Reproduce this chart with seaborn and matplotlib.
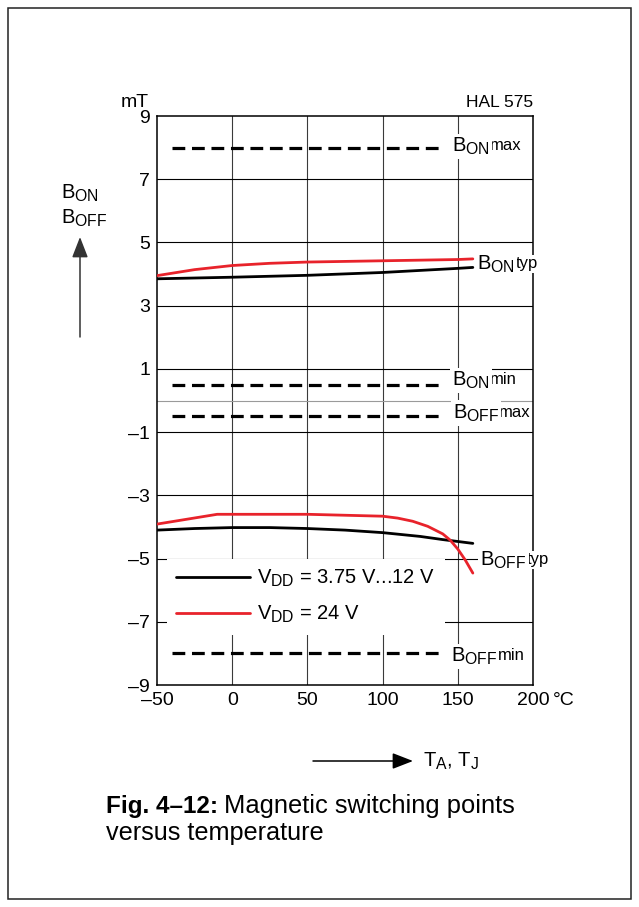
import matplotlib
matplotlib.use("Agg")
import matplotlib.pyplot as plt
import pandas as pd
import seaborn as sns

# ---- data -----------------------------------------------------------------
# typical switching points, V_DD = 3.75 V ... 12 V
temp_on_low = [-50, 0, 50, 100, 150, 160]
b_on_low = [3.85, 3.90, 3.96, 4.05, 4.18, 4.21]
temp_off_low = [-50, -25, 0, 25, 50, 75, 100, 125, 140, 160]
b_off_low = [-4.10, -4.05, -4.02, -4.02, -4.05, -4.10, -4.18, -4.30, -4.40, -4.52]

# typical switching points, V_DD = 24 V
temp_on_high = [-50, -25, 0, 25, 50, 100, 150, 160]
b_on_high = [3.95, 4.14, 4.27, 4.34, 4.38, 4.42, 4.46, 4.48]
temp_off_high = [-50, -10, 0, 50, 100, 110, 120, 130, 140, 145, 150, 155, 160]
b_off_high = [-3.91, -3.60, -3.60, -3.60, -3.66, -3.72, -3.82, -3.98, -4.22,
              -4.42, -4.70, -5.05, -5.46]

# specification limits (mT) and the temperature span they are drawn over
limit_values = [8.0, 0.5, -0.5, -8.0]
limit_span = [-40, 140]

supply_names = ["low", "high"]
supply_labels = [r"V$_\mathregular{DD}$ = 3.75 V...12 V",
                 r"V$_\mathregular{DD}$ = 24 V"]

x_ticks = [-50, 0, 50, 100, 150, 200]
x_ticklabels = ["–50", "0", "50", "100", "150", "200"]
y_ticks = [-9, -7, -5, -3, -1, 1, 3, 5, 7, 9]
y_ticklabels = ["–9", "–7", "–5", "–3", "–1", "1", "3", "5", "7", "9"]

point_names = ["ON", "ON", "ON", "OFF", "OFF", "OFF"]
point_kinds = ["max", "typ", "min", "max", "typ", "min"]

# ---- style ----------------------------------------------------------------
sns.set_theme(style="white")
plt.rcParams.update({
    "font.family": ["Liberation Sans", "DejaVu Sans"],
    "mathtext.fontset": "custom",
    "mathtext.rm": "Liberation Sans",
    "mathtext.it": "Liberation Sans:italic",
    "mathtext.bf": "Liberation Sans:bold",
    "mathtext.sf": "Liberation Sans",
    "text.color": "black",
    "axes.labelcolor": "black",
    "xtick.color": "black",
    "ytick.color": "black",
})
try:
    # slightly larger sub/superscripts than the mathtext default
    import matplotlib._mathtext as _mt
    _mt.SHRINK_FACTOR = 0.78
except Exception:
    pass

W, H = 639, 907
RED = "#e8232b"
TICK_FS = 14
LABEL_FS = 14.5


def fxy(px, py):
    """pixel position (from top-left) -> figure fraction"""
    return px / W, 1 - py / H


fig = plt.figure(figsize=(W / 100, H / 100), dpi=100)
ax = fig.add_axes([157 / W, 1 - 685 / H, (533 - 157) / W, (685 - 116) / H])

# ---- curves -----------------------------------------------------------------
curves = pd.concat([
    pd.DataFrame({"temp": temp_on_low, "B": b_on_low, "supply": "low", "curve": "on_low"}),
    pd.DataFrame({"temp": temp_on_high, "B": b_on_high, "supply": "high", "curve": "on_high"}),
    pd.DataFrame({"temp": temp_off_low, "B": b_off_low, "supply": "low", "curve": "off_low"}),
    pd.DataFrame({"temp": temp_off_high, "B": b_off_high, "supply": "high", "curve": "off_high"}),
], ignore_index=True)

sns.lineplot(data=curves, x="temp", y="B", hue="supply", units="curve",
             estimator=None, sort=False, hue_order=supply_names,
             palette={"low": "black", "high": RED}, linewidth=2.0,
             ax=ax, zorder=4)

limits = pd.DataFrame({
    "temp": limit_span * len(limit_values),
    "B": [v for v in limit_values for _ in limit_span],
    "limit": [i for i in range(len(limit_values)) for _ in limit_span],
})
for _, grp in limits.groupby("limit"):
    ax.plot(grp["temp"], grp["B"], color="black", lw=2.3,
            dashes=(4.0, 2.1), dash_capstyle="butt", zorder=4)

# ---- axes -------------------------------------------------------------------
ax.set_xlim(-50, 200)
ax.set_ylim(-9, 9)
ax.set_xticks(x_ticks, x_ticklabels)
ax.set_yticks(y_ticks, y_ticklabels)
ax.tick_params(length=0, pad=5, labelsize=TICK_FS, colors="black")
ax.set_xlabel("")
ax.set_ylabel("")
for s in ax.spines.values():
    s.set_color("black")
    s.set_linewidth(1.1)
    s.set_zorder(3)

for xv in x_ticks[1:-1]:
    ax.axvline(xv, color="#3a3a3a", lw=0.8, zorder=1)
for yv in y_ticks[1:-1]:
    ax.axhline(yv, color="black", lw=0.8, zorder=1)
ax.axhline(0, color="#9a9a9a", lw=0.8, zorder=1)

# legend with a white panel over the grid
handles, labels = ax.get_legend_handles_labels()
leg = ax.legend(handles[:2], supply_labels, loc="upper left",
                bbox_to_anchor=(0.026, 0.222), borderaxespad=0,
                fontsize=LABEL_FS, handlelength=3.7, handletextpad=0.35,
                labelspacing=0.75, borderpad=0.45, frameon=True,
                fancybox=False, framealpha=1)
leg.get_frame().set_facecolor("white")
leg.get_frame().set_edgecolor("none")
for ln in leg.get_lines():
    ln.set_linewidth(2.0)

# ---- curve labels -----------------------------------------------------------
label_xy = [(146, 7.87), (163, 4.13), (146, 0.46), (146.5, -0.56),
            (165, -5.24), (145.5, -8.27)]
box = dict(facecolor="white", edgecolor="none", pad=1.5)
for name, kind, (lx, ly) in zip(point_names, point_kinds, label_xy):
    main = ax.text(lx, ly, r"B$_\mathregular{%s}$" % name, fontsize=LABEL_FS,
                   ha="left", va="baseline", zorder=6, clip_on=False, bbox=box)
    ax.annotate(kind, xy=(1, ly), xycoords=(main, "data"),
                xytext=(0.2, 1.2), textcoords="offset points",
                fontsize=12, ha="left", va="baseline", zorder=5,
                annotation_clip=False,
                bbox=dict(facecolor="white", edgecolor="none", pad=1.0))

# ---- surrounding texts ------------------------------------------------------
ax.annotate("°C", xy=(1, 0), xycoords="axes fraction", xytext=(20, -7),
            textcoords="offset pixels", ha="left", va="top", fontsize=TICK_FS)
fig.text(*fxy(121, 107), "mT", fontsize=TICK_FS, ha="left", va="baseline")
fig.text(*fxy(533, 107), "HAL 575", fontsize=12.5, ha="right", va="baseline")

fig.text(*fxy(61, 199), r"B$_\mathregular{ON}$", fontsize=LABEL_FS, ha="left", va="baseline")
fig.text(*fxy(61, 224), r"B$_\mathregular{OFF}$", fontsize=LABEL_FS, ha="left", va="baseline")
fig.add_artist(matplotlib.patches.FancyArrowPatch(
    fxy(80, 337), fxy(80, 237), transform=fig.transFigure,
    arrowstyle="-|>,head_length=0.9,head_width=0.35", mutation_scale=14,
    color="#333333", lw=1.1, shrinkA=0, shrinkB=0))

fig.add_artist(matplotlib.patches.FancyArrowPatch(
    fxy(313, 761), fxy(413, 761), transform=fig.transFigure,
    arrowstyle="-|>,head_length=0.9,head_width=0.35", mutation_scale=14,
    color="black", lw=1.1, shrinkA=0, shrinkB=0))
fig.text(*fxy(423, 767), r"T$_\mathregular{A}$, T$_\mathregular{J}$",
         fontsize=LABEL_FS, ha="left", va="baseline")

# caption
bold = fig.text(*fxy(106, 813), "Fig. 4–12:", fontsize=17.5, fontweight="bold",
                ha="left", va="baseline")
fig.canvas.draw()
bb = bold.get_window_extent(renderer=fig.canvas.get_renderer())
fig.text(bb.x1 / W + 6 / W, 1 - 813 / H, "Magnetic switching points",
         fontsize=18.4, ha="left", va="baseline")
fig.text(*fxy(106, 840), "versus temperature", fontsize=18.2, ha="left", va="baseline")

# frame around the whole figure
fig.add_artist(matplotlib.patches.Rectangle(
    fxy(8, 899), (631 - 8) / W, (899 - 8) / H, transform=fig.transFigure,
    fill=False, edgecolor="#222222", lw=1.1))

fig.savefig("out.png", dpi=100, facecolor="white")
